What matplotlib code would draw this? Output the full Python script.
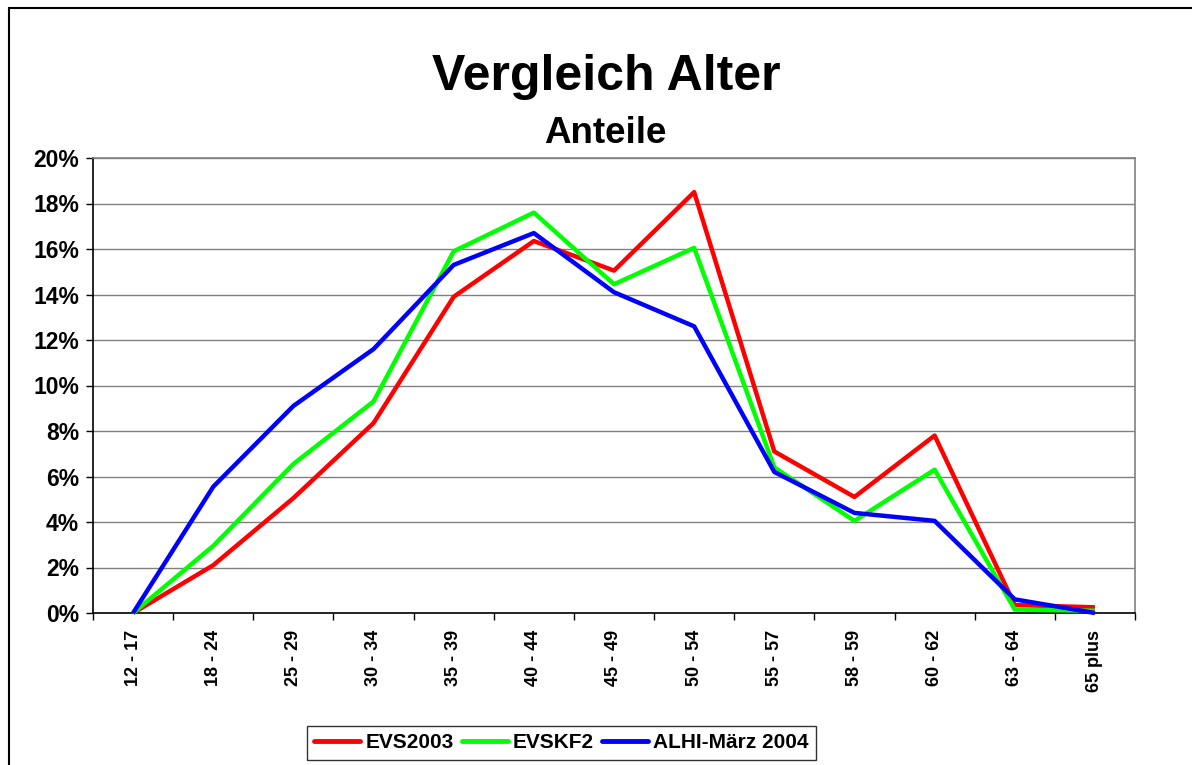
import matplotlib
matplotlib.use("Agg")
import matplotlib.pyplot as plt
import matplotlib.patches as mpatches
from matplotlib.ticker import FixedLocator, PercentFormatter
import numpy as np

categories = ["12 - 17", "18 - 24", "25 - 29", "30 - 34", "35 - 39", "40 - 44",
              "45 - 49", "50 - 54", "55 - 57", "58 - 59", "60 - 62", "63 - 64", "65 plus"]
evs2003 = [0.0, 2.1, 5.05, 8.35, 13.9, 16.35, 15.05, 18.5, 7.1, 5.1, 7.8, 0.35, 0.25]
evskf2 = [0.0, 2.95, 6.55, 9.3, 15.9, 17.6, 14.45, 16.05, 6.4, 4.05, 6.3, 0.15, 0.1]
alhi = [0.0, 5.55, 9.1, 11.6, 15.3, 16.7, 14.1, 12.6, 6.2, 4.4, 4.05, 0.6, 0.0]
series_names = ["EVS2003", "EVSKF2", "ALHI-März 2004"]
series_colors = ["#FF0000", "#00FF00", "#0000FF"]
yticks = [0, 2, 4, 6, 8, 10, 12, 14, 16, 18, 20]

FONT = ["Liberation Sans", "DejaVu Sans"]
plt.rcParams["font.family"] = FONT
plt.rcParams["font.weight"] = "bold"

W, H = 1192, 765
fig = plt.figure(figsize=(W / 100, H / 100), dpi=100)
ax = fig.add_axes([93 / W, 1 - 613 / H, (1135 - 93) / W, (613 - 158) / H])

x = np.arange(len(categories))
for vals, name, col in zip([evs2003, evskf2, alhi], series_names, series_colors):
    ax.plot(x, vals, color=col, lw=3.2, label=name, solid_joinstyle="round",
            solid_capstyle="butt", clip_on=False, zorder=3)

ax.set_xlim(-0.5, len(categories) - 0.5)
ax.set_ylim(0, 20)
ax.set_yticks(yticks)
ax.yaxis.set_major_formatter(PercentFormatter(decimals=0))
ax.grid(axis="y", color="#808080", lw=1.0, zorder=0)
ax.set_axisbelow(True)

ax.set_xticks(x)
ax.set_xticklabels(categories, rotation=90, fontsize=13, fontweight="bold")
ax.xaxis.set_minor_locator(FixedLocator(np.arange(len(categories) + 1) - 0.5))
ax.tick_params(axis="x", which="major", length=0, pad=12)
ax.tick_params(axis="x", which="minor", length=5, width=1, color="black", direction="out")
ax.tick_params(axis="y", length=5, width=1, direction="out", labelsize=16.5, pad=5)
for lab in ax.get_yticklabels():
    lab.set_fontweight("bold")

ax.spines["left"].set_color("black")
ax.spines["bottom"].set_color("black")
ax.spines["top"].set_color("#808080")
ax.spines["right"].set_color("#808080")
for s in ax.spines.values():
    s.set_linewidth(1.2)

fig.text(606 / W, 1 - 90 / H, "Vergleich Alter", ha="center", va="baseline",
         fontsize=36, fontweight="bold")
fig.text(605 / W, 1 - 143 / H, "Anteile", ha="center", va="baseline",
         fontsize=26.5, fontweight="bold")

leg = fig.legend(loc="center", bbox_to_anchor=(561.5 / W, 1 - 743 / H), ncol=3,
                 fontsize=15, frameon=True, fancybox=False, edgecolor="black",
                 handlelength=2.2, handletextpad=0.25, columnspacing=0.4,
                 borderpad=0.35, borderaxespad=0)
leg.get_frame().set_linewidth(1.0)
for t in leg.get_texts():
    t.set_fontweight("bold")
for l in leg.get_lines():
    l.set_linewidth(3.5)
    l.set_solid_capstyle("round")

rect = mpatches.Rectangle((9 / W, -0.1), 1.2, 1.1 - 8 / H, transform=fig.transFigure,
                          fill=False, edgecolor="black", lw=1.5)
fig.patches.append(rect)

fig.savefig("out.png", dpi=100)
